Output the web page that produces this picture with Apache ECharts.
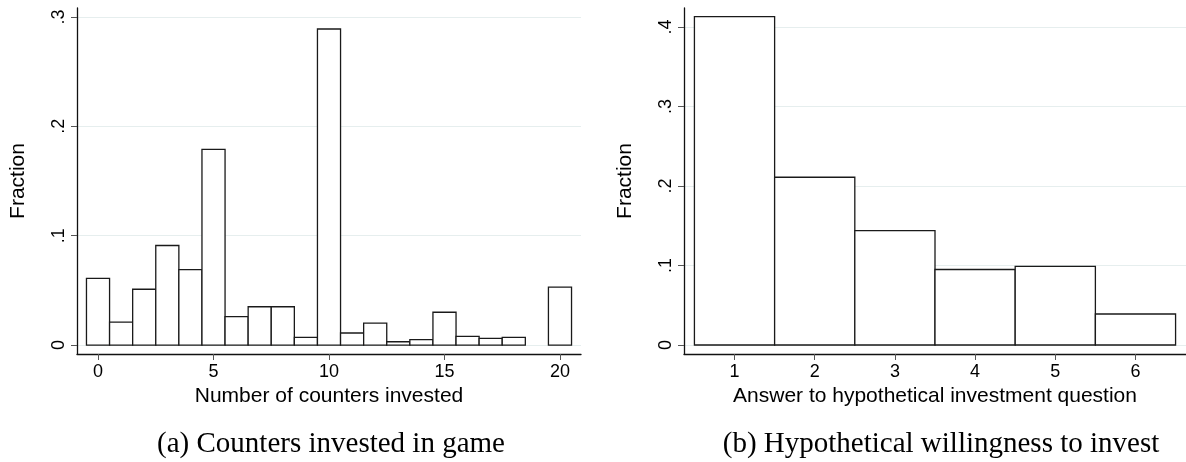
<!DOCTYPE html>
<html>
<head>
<meta charset="utf-8">
<script src="https://cdn.jsdelivr.net/npm/echarts@6/dist/echarts.min.js"></script>
<style>
  html, body { margin: 0; padding: 0; background: #fff; }
  #chart { width: 1186px; height: 462px; }
</style>
</head>
<body>
<div id="chart"></div>
<script>
// panel (a): counters invested in game
const countersA = [0, 1, 2, 3, 4, 5, 6, 7, 8, 9, 10, 11, 12, 13, 14, 15, 16, 17, 18, 19, 20];
const fractionA = [0.061, 0.021, 0.051, 0.091, 0.069, 0.179, 0.026, 0.035, 0.035, 0.007, 0.289,
                   0.011, 0.020, 0.003, 0.005, 0.030, 0.008, 0.006, 0.007, 0, 0.053];
const xTicksA = [0, 5, 10, 15, 20];
const yTicksA = [0, 0.1, 0.2, 0.3];

// panel (b): hypothetical willingness to invest
const answersB = [1, 2, 3, 4, 5, 6];
const fractionB = [0.413, 0.211, 0.144, 0.095, 0.099, 0.039];
const xTicksB = [1, 2, 3, 4, 5, 6];
const yTicksB = [0, 0.1, 0.2, 0.3, 0.4];

const sans = '"Liberation Sans", Arial, sans-serif';
const serif = '"Liberation Serif", "Times New Roman", serif';
const axisColor = '#111';

function fmt(v) {
    if (v === 0) return '0';
    return String(Math.round(v * 10) / 10).replace(/^0/, '');
}

function renderBin(params, api) {
    const x = api.value(0), y = api.value(1);
    if (!y) return null;
    const p0 = api.coord([x - 0.5, 0]);
    const p1 = api.coord([x + 0.5, y]);
    return {
        type: 'rect',
        shape: { x: p0[0], y: p1[1], width: p1[0] - p0[0], height: p0[1] - p1[1] },
        style: { fill: '#fff', stroke: '#1a1a1a', lineWidth: 1.3 }
    };
}

function xAxis(gridIndex, min, max, ticks, name) {
    return {
        type: 'value', gridIndex, min, max,
        name, nameLocation: 'middle', nameGap: 31,
        nameTextStyle: { fontFamily: sans, fontSize: 21, color: '#000' },
        axisLine: { show: true, onZero: false, lineStyle: { color: axisColor, width: 1.3 } },
        axisTick: { show: true, length: 6, customValues: ticks, lineStyle: { color: '#555' } },
        axisLabel: { customValues: ticks, margin: 9, fontFamily: sans, fontSize: 18, color: '#000' },
        splitLine: { show: false }
    };
}

function yAxis(gridIndex, min, max, ticks) {
    return {
        type: 'value', gridIndex, min, max,
        name: 'Fraction', nameLocation: 'middle', nameGap: 48,
        nameTextStyle: { fontFamily: sans, fontSize: 21, color: '#000' },
        axisLine: { show: true, onZero: false, lineStyle: { color: axisColor, width: 1.3 } },
        axisTick: { show: true, length: 6, customValues: ticks, lineStyle: { color: '#555' } },
        axisLabel: { customValues: ticks, rotate: 90, margin: 9, fontFamily: sans, fontSize: 18,
                     color: '#000', formatter: fmt },
        splitLine: { show: true, lineStyle: { color: '#e6eeee', width: 1 } }
    };
}

const chart = echarts.init(document.getElementById('chart'));
chart.setOption({
    animation: false,
    backgroundColor: '#fff',
    grid: [
        { left: 77, top: 8, width: 504, height: 346 },
        { left: 684, top: 8, width: 506, height: 346 }
    ],
    xAxis: [
        xAxis(0, -0.91, 20.91, xTicksA, 'Number of counters invested'),
        xAxis(1, 0.37, 6.63, xTicksB, 'Answer to hypothetical investment question')
    ],
    yAxis: [
        yAxis(0, -0.0082, 0.3082, yTicksA),
        yAxis(1, -0.0113, 0.4239, yTicksB)
    ],
    series: [
        {
            type: 'custom', xAxisIndex: 0, yAxisIndex: 0,
            renderItem: renderBin, encode: { x: 0, y: 1 },
            data: countersA.map((c, i) => [c, fractionA[i]])
        },
        {
            type: 'custom', xAxisIndex: 1, yAxisIndex: 1,
            renderItem: renderBin, encode: { x: 0, y: 1 },
            data: answersB.map((c, i) => [c, fractionB[i]])
        }
    ],
    graphic: [
        { type: 'text', x: 331, y: 444,
          style: { text: '(a) Counters invested in game', font: '29px ' + serif, fill: '#000',
                   textAlign: 'center', textVerticalAlign: 'middle' } },
        { type: 'text', x: 941, y: 444,
          style: { text: '(b) Hypothetical willingness to invest', font: '29px ' + serif, fill: '#000',
                   textAlign: 'center', textVerticalAlign: 'middle' } }
    ]
});
</script>
</body>
</html>
